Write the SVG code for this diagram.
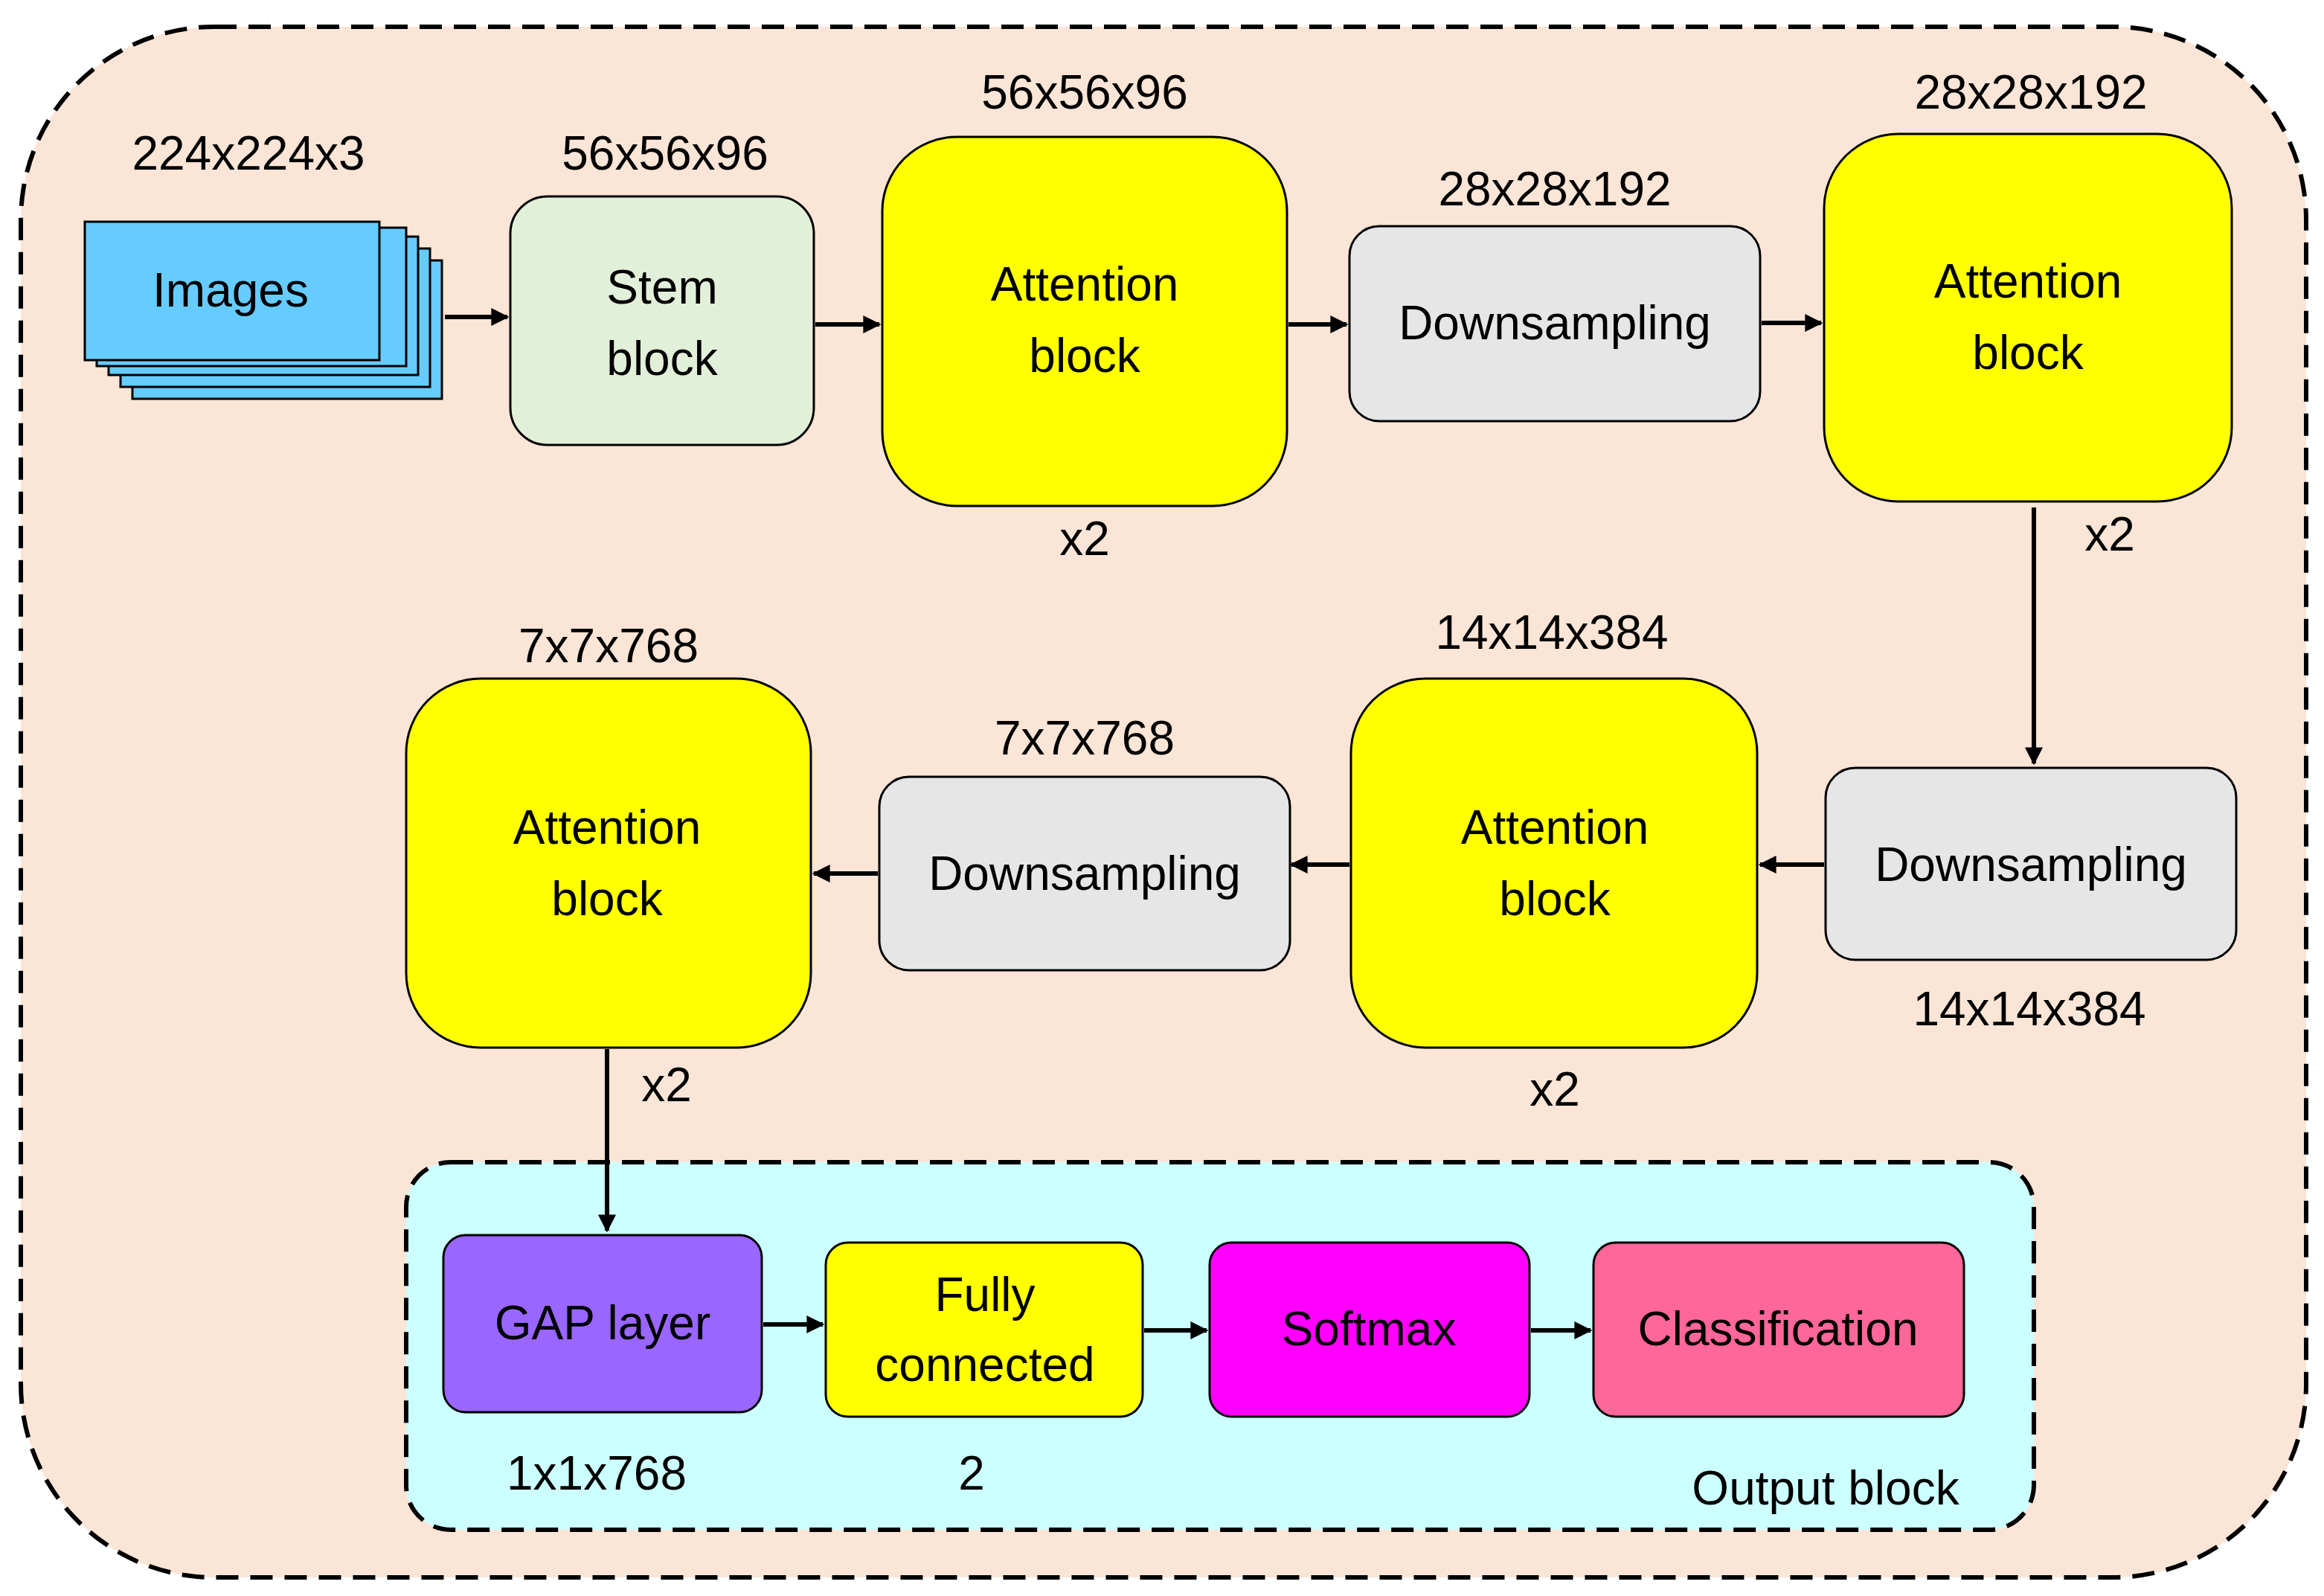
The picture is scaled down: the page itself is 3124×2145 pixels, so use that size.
<svg xmlns="http://www.w3.org/2000/svg" width="3124" height="2145" viewBox="0 0 3124 2145">
<defs>
<marker id="ah" viewBox="0 0 10 10" refX="9" refY="5" markerWidth="4" markerHeight="4" orient="auto"><path d="M0,0 L10,5 L0,10 z" fill="#000"/></marker>
<style>
text{font-family:"Liberation Sans",Arial,sans-serif;font-size:64px;fill:#000;text-anchor:middle}
.n{stroke:#000;stroke-width:3}
.c line{stroke:#000;stroke-width:6;marker-end:url(#ah)}
</style>
</defs>
<rect width="3124" height="2145" fill="#fff"/>
<rect x="28" y="36" width="3072" height="2084" rx="260" fill="#fbe5d6" stroke="#000" stroke-width="6" stroke-dasharray="30,16"/>
<g id="output">
<rect x="546" y="1562" width="2188" height="494" rx="60" fill="#ccffff" stroke="#000" stroke-width="6" stroke-dasharray="30,16"/>
<text x="2454" y="2022">Output block</text>
</g>
<g id="images">
<rect x="178" y="350" width="416" height="186" fill="#66ccff" class="n"/>
<rect x="162" y="334" width="416" height="186" fill="#66ccff" class="n"/>
<rect x="146" y="318" width="416" height="186" fill="#66ccff" class="n"/>
<rect x="130" y="306" width="416" height="186" fill="#66ccff" class="n"/>
<rect x="114" y="298" width="396" height="186" fill="#66ccff" class="n"/>
<text x="310" y="412">Images</text>
<text x="334" y="228">224x224x3</text>
</g>
<g id="stem"><rect x="686" y="264" width="408" height="334" rx="50" fill="#e2f0d9" class="n"/>
<text x="890" y="408">Stem</text><text x="890" y="504">block</text><text x="894" y="228">56x56x96</text></g>
<g id="att1"><rect x="1186" y="184" width="544" height="496" rx="100" fill="#ffff00" class="n"/>
<text x="1458" y="404">Attention</text><text x="1458" y="500">block</text><text x="1458" y="146">56x56x96</text><text x="1458" y="746">x2</text></g>
<g id="down1"><rect x="1814" y="304" width="552" height="262" rx="40" fill="#e7e6e6" class="n"/>
<text x="2090" y="456">Downsampling</text><text x="2090" y="276">28x28x192</text></g>
<g id="att2"><rect x="2452" y="180" width="548" height="494" rx="100" fill="#ffff00" class="n"/>
<text x="2726" y="400">Attention</text><text x="2726" y="496">block</text><text x="2730" y="146">28x28x192</text><text x="2836" y="740">x2</text></g>
<g id="down2"><rect x="2454" y="1032" width="552" height="258" rx="40" fill="#e7e6e6" class="n"/>
<text x="2730" y="1184">Downsampling</text><text x="2728" y="1378">14x14x384</text></g>
<g id="att3"><rect x="1816" y="912" width="546" height="496" rx="100" fill="#ffff00" class="n"/>
<text x="2090" y="1134">Attention</text><text x="2090" y="1230">block</text><text x="2086" y="872">14x14x384</text><text x="2090" y="1486">x2</text></g>
<g id="down3"><rect x="1182" y="1044" width="552" height="260" rx="40" fill="#e7e6e6" class="n"/>
<text x="1458" y="1196">Downsampling</text><text x="1458" y="1014">7x7x768</text></g>
<g id="att4"><rect x="546" y="912" width="544" height="496" rx="100" fill="#ffff00" class="n"/>
<text x="816" y="1134">Attention</text><text x="816" y="1230">block</text><text x="818" y="890">7x7x768</text><text x="896" y="1480">x2</text></g>
<g id="gap"><rect x="596" y="1660" width="428" height="238" rx="30" fill="#9966ff" class="n"/>
<text x="810" y="1800">GAP layer</text><text x="802" y="2002">1x1x768</text></g>
<g id="fc"><rect x="1110" y="1670" width="426" height="234" rx="30" fill="#ffff00" class="n"/>
<text x="1324" y="1762">Fully</text><text x="1324" y="1856">connected</text><text x="1306" y="2002">2</text></g>
<g id="softmax"><rect x="1626" y="1670" width="430" height="234" rx="30" fill="#ff00ff" class="n"/>
<text x="1840" y="1808">Softmax</text></g>
<g id="class"><rect x="2142" y="1670" width="498" height="234" rx="30" fill="#ff6699" class="n"/>
<text x="2390" y="1808">Classification</text></g>
<g class="c" id="connectors">
<line x1="598" y1="426" x2="682" y2="426"/>
<line x1="1096" y1="436" x2="1182" y2="436"/>
<line x1="1732" y1="436" x2="1810" y2="436"/>
<line x1="2368" y1="434" x2="2448" y2="434"/>
<line x1="2734" y1="682" x2="2734" y2="1026"/>
<line x1="2452" y1="1162" x2="2366" y2="1162"/>
<line x1="1814" y1="1162" x2="1736" y2="1162"/>
<line x1="1180" y1="1174" x2="1094" y2="1174"/>
<line x1="816" y1="1410" x2="816" y2="1654"/>
<line x1="1026" y1="1780" x2="1106" y2="1780"/>
<line x1="1538" y1="1788" x2="1622" y2="1788"/>
<line x1="2058" y1="1788" x2="2138" y2="1788"/>
</g>
</svg>
